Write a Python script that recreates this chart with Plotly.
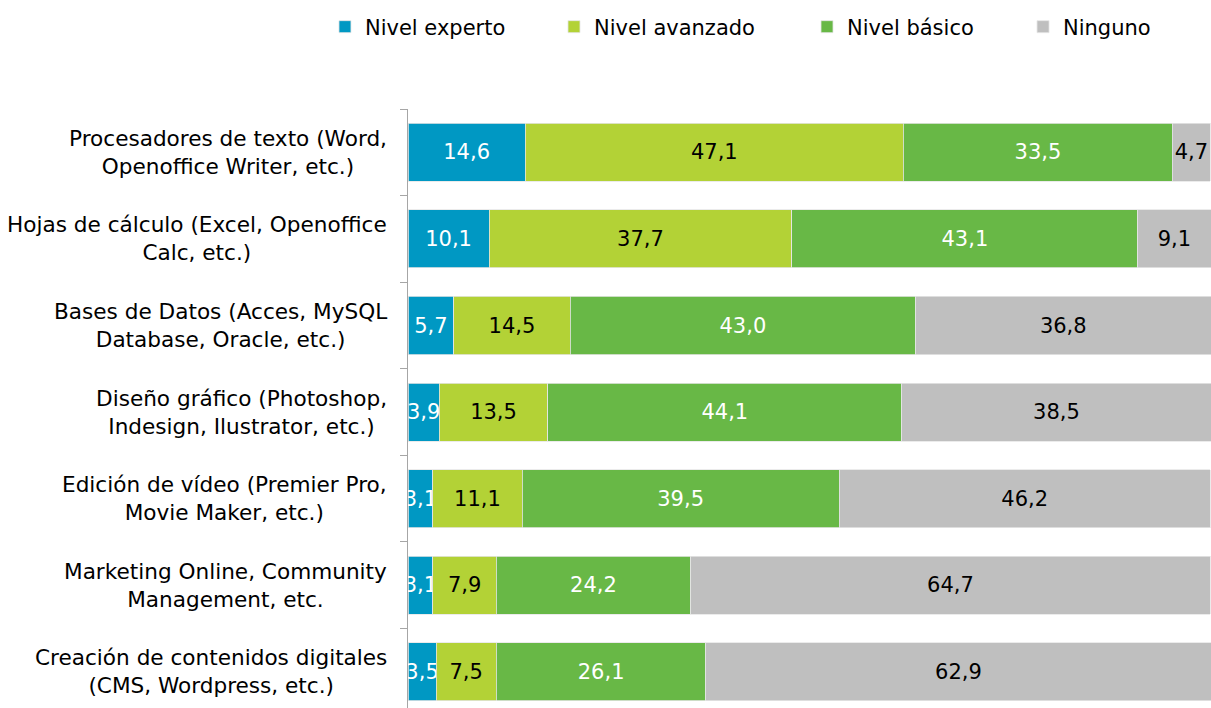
import plotly.graph_objects as go

# Categories (top to bottom) and share of respondents per skill level (%)
categories = [
    "Procesadores de texto (Word,<br>Openoffice Writer, etc.)",
    "Hojas de cálculo (Excel, Openoffice<br>Calc, etc.)",
    "Bases de Datos (Acces, MySQL<br>Database, Oracle, etc.)",
    "Diseño gráfico (Photoshop,<br>Indesign, Ilustrator, etc.)",
    "Edición de vídeo (Premier Pro,<br>Movie Maker, etc.)",
    "Marketing Online, Community<br>Management, etc.",
    "Creación de contenidos digitales<br>(CMS, Wordpress, etc.)",
]
nivel_experto = [14.6, 10.1, 5.7, 3.9, 3.1, 3.1, 3.5]
nivel_avanzado = [47.1, 37.7, 14.5, 13.5, 11.1, 7.9, 7.5]
nivel_basico = [33.5, 43.1, 43.0, 44.1, 39.5, 24.2, 26.1]
ninguno = [4.7, 9.1, 36.8, 38.5, 46.2, 64.7, 62.9]

series = [
    ("Nivel experto", nivel_experto, "#0098C3", "#FFFFFF", "legend", -0.1034),
    ("Nivel avanzado", nivel_avanzado, "#B3D236", "#000000", "legend2", 0.1818),
    ("Nivel básico", nivel_basico, "#68B846", "#FFFFFF", "legend3", 0.4969),
    ("Ninguno", ninguno, "#BFBFBF", "#000000", "legend4", 0.7659),
]

FONT = "DejaVu Sans"
FS = 21

fig = go.Figure()
for name, vals, color, tcolor, leg, _ in series:
    fig.add_trace(go.Bar(
        name=name,
        y=categories,
        x=vals,
        orientation="h",
        width=0.67,
        marker=dict(color=color, line=dict(color="#E6E6E6", width=0.8)),
        text=vals,
        texttemplate="%{x:.1f}",
        textposition="inside",
        insidetextanchor="middle",
        constraintext="none",
        textangle=0,
        textfont=dict(family=FONT, size=FS, color=tcolor),
        cliponaxis=True,
        legend=leg,
        hoverinfo="skip",
    ))

# Category labels, centred multi-line blocks to the left of the axis
for cat in categories:
    fig.add_annotation(
        x=0, xref="paper", xanchor="right", xshift=-19,
        y=cat, yref="y", yanchor="middle",
        text=cat, showarrow=False, align="center",
        font=dict(family=FONT, size=21.6, color="#000000"),
    )

layout_legends = {}
for name, vals, color, tcolor, leg, lx in series:
    layout_legends[leg] = dict(
        x=lx, xanchor="left",
        y=1 - 27 / 708, yref="container", yanchor="middle",
        orientation="h",
        font=dict(family=FONT, size=FS, color="#000000"),
        bgcolor="rgba(0,0,0,0)",
        borderwidth=0,
    )

fig.update_layout(
    barmode="stack",
    width=1211,
    height=708,
    margin=dict(l=408, r=0, t=109, b=0, pad=0),
    paper_bgcolor="white",
    plot_bgcolor="white",
    separators=",.",
    font=dict(family=FONT, size=FS, color="#000000"),
    showlegend=True,
    **layout_legends,
)

fig.update_xaxes(
    range=[0, 100],
    visible=False,
    showgrid=False,
    zeroline=False,
)
fig.update_yaxes(
    type="category",
    categoryorder="array",
    categoryarray=categories,
    range=[6.417, -0.5],
    showticklabels=False,
    showgrid=False,
    zeroline=False,
    showline=True,
    linecolor="#A6A6A6",
    linewidth=1.3,
    ticks="outside",
    tickson="boundaries",
    ticklen=7,
    tickcolor="#A6A6A6",
    tickwidth=1.3,
)

fig.write_html("out.html")
